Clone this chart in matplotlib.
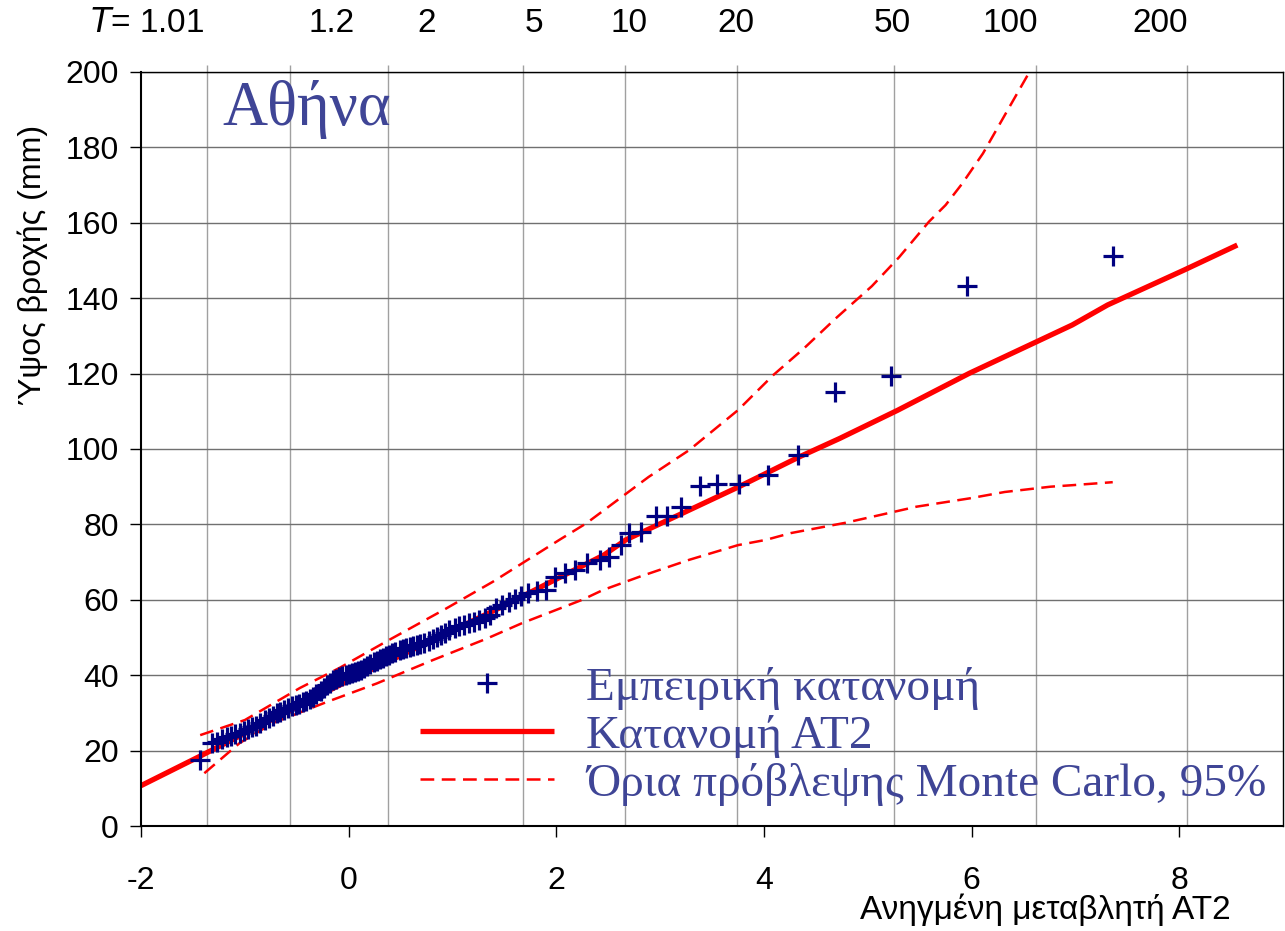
import matplotlib
matplotlib.use("Agg")
import matplotlib.pyplot as plt

plt.rcParams["axes.unicode_minus"] = False

# empirical points (reduced variate, rainfall mm)
emp_x = [-1.43, -1.32, -1.27, -1.22, -1.17, -1.13, -1.09, -1.05, -1.01, -0.97,
         -0.93, -0.89, -0.85, -0.81, -0.77, -0.73, -0.69, -0.66, -0.62, -0.58,
         -0.55, -0.51, -0.48, -0.44, -0.41, -0.37, -0.34, -0.31, -0.27, -0.24,
         -0.21, -0.18, -0.15, -0.12, -0.09, -0.06, -0.03, 0.00, 0.03, 0.06,
         0.09, 0.12, 0.15, 0.18, 0.21, 0.24, 0.27, 0.30, 0.33, 0.36,
         0.39, 0.42, 0.45, 0.49, 0.52, 0.55, 0.59, 0.62, 0.66, 0.69,
         0.73, 0.77, 0.81, 0.85, 0.89, 0.93, 0.97, 1.02, 1.06, 1.11,
         1.16, 1.21, 1.26, 1.31, 1.36, 1.42, 1.48, 1.54, 1.60, 1.66,
         1.73, 1.81, 1.90, 1.99, 2.08, 2.18, 2.30, 2.42, 2.51, 2.62,
         2.70, 2.82, 2.96, 3.07, 3.20, 3.38, 3.55, 3.76, 4.04, 4.33,
         4.68, 5.22, 5.96, 7.36]
emp_y = [17.5, 22.0, 22.2, 23.0, 23.5, 24.0, 24.4, 24.8, 25.3, 25.8,
         26.3, 26.6, 27.2, 28.0, 28.7, 29.3, 29.9, 30.3, 30.8, 31.2,
         31.7, 32.0, 32.4, 32.8, 33.2, 33.7, 34.3, 35.0, 35.8, 36.6,
         37.4, 38.0, 38.6, 39.0, 39.4, 39.7, 40.0, 40.2, 40.5, 40.8,
         41.1, 41.5, 42.0, 42.5, 43.0, 43.4, 43.8, 44.2, 44.6, 45.0,
         45.4, 45.8, 46.2, 46.6, 47.0, 47.3, 47.5, 47.7, 47.9, 48.2,
         48.6, 49.1, 49.6, 50.1, 50.7, 51.3, 51.9, 52.5, 53.0, 53.4,
         53.8, 54.2, 54.6, 55.2, 56.0, 57.8, 58.5, 59.4, 60.3, 61.0,
         61.7, 62.3, 62.6, 66.1, 67.2, 67.8, 69.8, 70.6, 71.4, 74.5,
         77.6, 78.0, 82.2, 82.2, 84.7, 90.2, 90.7, 90.6, 93.1, 98.4,
         115.2, 119.4, 143.3, 151.2]

# fitted AT2 distribution
fit_x = [-2.0, -1.44, 0.0, 1.45, 2.46, 2.67, 3.76, 4.34, 4.73, 5.29, 5.98,
         6.63, 6.97, 7.31, 8.05, 8.56]
fit_y = [10.7, 18.4, 38.6, 57.8, 71.9, 75.9, 90.0, 97.9, 102.8, 110.3, 120.1,
         128.5, 132.9, 138.2, 147.5, 154.1]

# Monte Carlo 95% prediction limits
up_x = [-1.43, -1.0, -0.47, -0.09, 0.36, 0.94, 1.39, 2.03, 2.29, 2.89, 3.28,
        3.75, 4.09, 4.39, 4.69, 5.04, 5.30, 5.59, 5.75, 5.91, 6.11, 6.35, 6.62]
up_y = [24.1, 28.1, 36.6, 41.9, 48.9, 57.7, 64.8, 75.9, 80.3, 92.6, 99.7,
        110.3, 119.6, 126.8, 134.6, 143.2, 150.8, 160.3, 164.7, 170.4, 178.4,
        190.0, 203.0]
lo_x = [-1.39, -1.05, -0.73, -0.21, 0.27, 0.81, 1.33, 1.67, 2.25, 2.45, 2.80,
        3.28, 3.75, 4.02, 4.26, 4.78, 5.12, 5.47, 5.98, 6.32, 6.76, 6.97, 7.36]
lo_y = [14.0, 22.0, 27.3, 32.9, 37.8, 44.0, 49.7, 53.8, 60.0, 62.6, 66.1,
        70.6, 74.5, 75.9, 77.7, 80.4, 82.5, 84.7, 86.9, 88.6, 90.0, 90.4, 91.2]

# return period axis (top)
T_grid_x = [-1.367, -0.568, 0.375, 1.675, 2.666, 3.739, 5.256, 6.62, 8.075]
T_labels = ["$T$= 1.01", "1.2", "2", "5", "10", "20", "50", "100", "200"]
T_label_x = [-1.386, -0.164, 0.751, 1.79, 2.70, 3.73, 5.24, 6.37, 7.815]

xticks = [-2, 0, 2, 4, 6, 8]
yticks = list(range(0, 201, 20))

txt_blue = "#3f4596"
sans = "Liberation Sans"
serif = "Liberation Serif"

fig = plt.figure(figsize=(12.85, 9.31), dpi=100)
ax = fig.add_axes([141/1285, 1-826/931, (1283-141)/1285, (826-72)/931])

ax.set_xlim(-2, 9)
ax.set_ylim(0, 200)

ax.set_yticks(yticks)
ax.set_xticks(xticks)
ax.yaxis.grid(True, color="#707070", lw=1.0)
ax.set_axisbelow(True)
ax.vlines(T_grid_x, 0, 201.8, colors="#a0a0a0", lw=1.0, clip_on=False, zorder=0.5)

for s in ax.spines.values():
    s.set_color("black")
    s.set_linewidth(1.0)
ax.spines["left"].set_linewidth(1.5)
ax.spines["bottom"].set_linewidth(1.5)

ax.tick_params(axis="y", direction="out", length=8, width=1, pad=8,
               labelsize=23)
ax.tick_params(axis="x", direction="out", length=8, width=1, pad=21,
               labelsize=23)
for lab in ax.get_xticklabels() + ax.get_yticklabels():
    lab.set_fontfamily(sans)

ax.plot(emp_x, emp_y, ls="none", marker="+", ms=14, mew=2.3, color="#000080",
        label="Εμπειρική κατανομή", zorder=3)
ax.plot(fit_x, fit_y, color="red", lw=3.8, label="Κατανομή AT2", zorder=2,
        solid_capstyle="butt")
ax.plot(up_x, up_y, color="red", lw=1.8, dashes=(5.5, 3),
        label="Όρια πρόβλεψης Monte Carlo, 95%", zorder=2)
ax.plot(lo_x, lo_y, color="red", lw=1.8, dashes=(5.5, 3), zorder=2)

leg = ax.legend(loc="center left", bbox_to_anchor=(0.244, 0.119), frameon=False,
                borderpad=0, borderaxespad=0, handlelength=2.85,
                handletextpad=0.68, labelspacing=0.1, numpoints=1,
                prop={"family": serif, "size": 34})
for t in leg.get_texts():
    t.set_color(txt_blue)

ax.text(-1.22, 190, "Αθήνα", family=serif, size=45, color=txt_blue,
        ha="left", va="center")

for xv, lab in zip(T_label_x, T_labels):
    ha = "right" if lab.startswith("$T$") else "center"
    ax.text(xv, 1.0637, lab, transform=ax.get_xaxis_transform(), ha=ha,
            va="center", family=sans, size=24)

fig.text(33/1285, 1-265/931, "Ύψος βροχής (mm)", rotation=90, ha="center",
         va="center", family=sans, size=23)
fig.text(1045/1285, 1-910/931, "Ανηγμένη μεταβλητή AT2", ha="center",
         va="center", family=sans, size=24)

fig.savefig("out.png", dpi=100)
